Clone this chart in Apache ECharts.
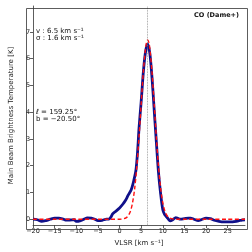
<!DOCTYPE html>
<html><head><meta charset="utf-8">
<script src="https://cdn.jsdelivr.net/npm/echarts@6/dist/echarts.min.js"></script>
<style>html,body{margin:0;padding:0;background:#fff}#c{width:252px;height:252px}</style>
</head><body><div id="c"></div>
<script>
// Observed spectrum (VLSR km/s, T K)
const obsV = [-20,-19,-18,-17,-16,-15,-14,-13,-12.5,-11.5,-10.5,-10,-9,-8,-7.5,-6.5,-5.7,-5,-4,-3,-2.5,-2,-1.6,-1,0,0.7,1.35,2,2.7,3.3,3.8,4.2,4.5,5,5.5,6,6.5,7,7.5,8,8.5,9,9.5,10,10.4,10.8,11.2,11.7,12.3,13,13.5,14.1,15,16,16.4,17.2,18.2,19,20,21,21.9,23,24,25,26,26.5,27.5,28.3,29];
const obsT = [0.0,-0.02,-0.08,-0.05,0.0,0.04,0.04,0.0,-0.03,-0.03,-0.02,-0.08,-0.05,0.02,0.05,0.04,0.0,-0.05,-0.04,0.0,0.0,0.08,0.2,0.28,0.42,0.55,0.7,0.9,1.1,1.45,1.85,2.6,3.4,4.4,5.5,6.25,6.55,6.2,5.3,4.1,2.9,1.75,0.95,0.35,0.18,0.1,0.02,-0.06,-0.02,0.06,0.03,0.0,0.02,0.04,0.04,0.0,-0.05,-0.01,0.04,0.02,-0.04,-0.08,-0.1,-0.1,-0.1,-0.09,-0.06,-0.03,-0.02];
// Gaussian fit (VLSR km/s, T K)
const fitV = [-20,-15,-10,-5,-2,0,1,1.5,2,2.5,3,3.5,4,4.5,5,5.5,6,6.25,6.5,6.75,7,7.5,8,8.5,9,9.5,10,10.5,11,11.5,12,13,15,20,25,29];
const fitT = [0,0,0,0,0,0,0.02,0.05,0.13,0.29,0.61,1.15,1.98,3.07,4.32,5.51,6.38,6.62,6.7,6.62,6.38,5.51,4.32,3.07,1.98,1.15,0.61,0.29,0.13,0.05,0.02,0,0,0,0,0];
const vCenter = 6.5;
const xTicks = [-20,-15,-10,-5,0,5,10,15,20,25];
const yTicks = [0,1,2,3,4,5,6,7];

const obs = obsV.map((v,i)=>[v,obsT[i]]);
const fit = fitV.map((v,i)=>[v,fitT[i]]);
const fmt = v => String(v).replace('-', '\u2212');
const axisCol = '#333';
const chart = echarts.init(document.getElementById('c'), null, {renderer:'canvas'});
chart.setOption({
  animation:false,
  textStyle:{fontFamily:'DejaVu Sans'},
  grid:{left:24,right:7,top:6,bottom:25,containLabel:false},
  xAxis:{type:'value',min:-20,max:29,
    name:'VLSR [km s\u207B\u00B9]',nameLocation:'middle',nameGap:11,
    nameTextStyle:{fontSize:7,color:'#222',fontFamily:'DejaVu Sans'},
    axisLine:{show:true,onZero:false,lineStyle:{color:axisCol,width:0.8}},
    axisTick:{show:true,inside:false,length:3,lineStyle:{color:axisCol,width:0.8},customValues:xTicks},
    axisLabel:{fontSize:6.5,color:'#222',margin:3,customValues:xTicks,formatter:fmt},
    splitLine:{show:false}},
  yAxis:{type:'value',min:-0.22,max:7.97,
    name:'Main Beam Brightness Temperature [K]',nameLocation:'middle',nameGap:15,nameRotate:90,
    nameTextStyle:{fontSize:7,color:'#222',fontFamily:'DejaVu Sans'},
    axisLine:{show:true,onZero:false,lineStyle:{color:axisCol,width:0.8}},
    axisTick:{show:true,inside:false,length:3,lineStyle:{color:axisCol,width:0.8},customValues:yTicks},
    axisLabel:{fontSize:6.5,color:'#222',margin:3,customValues:yTicks,formatter:fmt},
    splitLine:{show:false}},
  graphic:[
    {type:'rect',left:24,top:6,shape:{width:221,height:221},style:{fill:'none',stroke:axisCol,lineWidth:0.8},silent:true,z:100},
    {type:'text',left:36,top:28,style:{text:'v : 6.5 km s\u207B\u00B9',fontSize:7,fill:'#111',fontFamily:'DejaVu Sans'}},
    {type:'text',left:36,top:35,style:{text:'\u03C3 : 1.6 km s\u207B\u00B9',fontSize:7,fill:'#111',fontFamily:'DejaVu Sans'}},
    {type:'text',left:36,top:109,style:{text:'\u2113 = 159.25\u00B0',fontSize:7,fill:'#111',fontFamily:'DejaVu Sans'}},
    {type:'text',left:36,top:116,style:{text:'b = \u221220.50\u00B0',fontSize:7,fill:'#111',fontFamily:'DejaVu Sans'}},
    {type:'text',right:13,top:12,style:{text:'CO (Dame+)',fontSize:6.5,fontWeight:'bold',fill:'#111',fontFamily:'DejaVu Sans'}}
  ],
  series:[
    {type:'line',data:obs,showSymbol:false,smooth:0.3,z:2,
      lineStyle:{color:'#10108a',width:2.8},
      markLine:{silent:true,symbol:'none',label:{show:false},
        lineStyle:{color:'#888',type:'dotted',width:0.8},data:[{xAxis:vCenter}]}},
    {type:'line',data:fit,showSymbol:false,smooth:0.3,z:3,
      lineStyle:{color:'#ff1010',width:1.4,type:[4,2.5]}}
  ]
});
</script></body></html>
